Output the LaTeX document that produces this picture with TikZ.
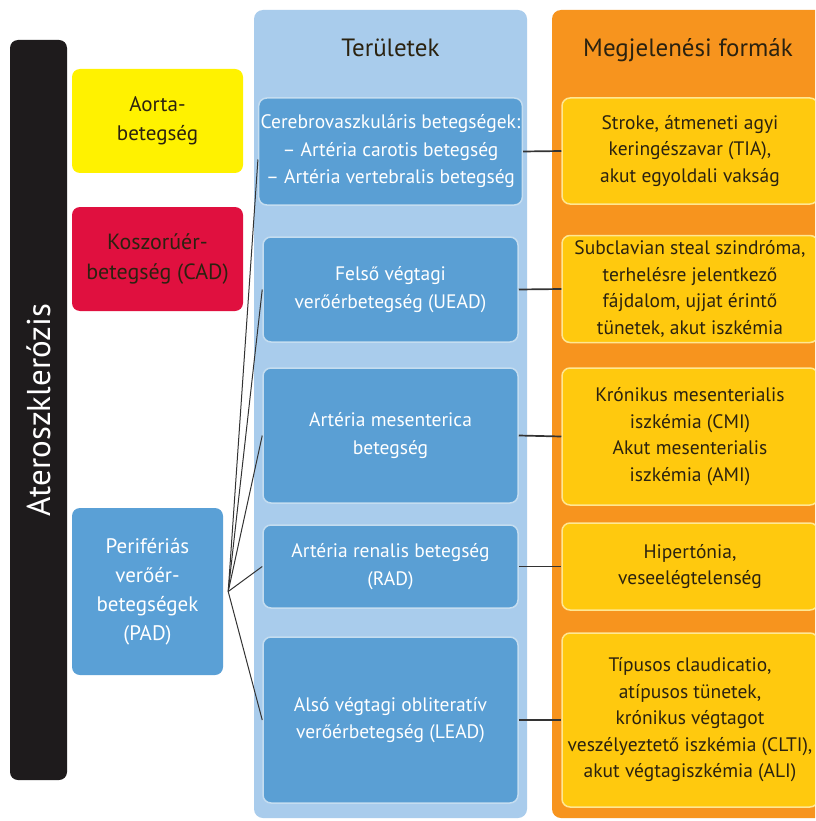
\documentclass[tikz,border=0pt]{standalone}
\usepackage{fontspec}
\setmainfont{PT Sans}
\usetikzlibrary{positioning}
\definecolor{barblack}{HTML}{1E1B1C}
\definecolor{aortayellow}{HTML}{FFF200}
\definecolor{cadred}{HTML}{E0103F}
\definecolor{padblue}{HTML}{5AA0D6}
\definecolor{areablue}{HTML}{A9CCEC}
\definecolor{boxblue}{HTML}{5A9FD4}
\definecolor{formorange}{HTML}{F7941E}
\definecolor{formyellow}{HTML}{FFC90E}
\definecolor{darktext}{HTML}{2B2210}
\tikzset{main node/.style={rounded corners=8pt,inner sep=2pt,align=center,font=\fontsize{21}{29}\selectfont}}
\tikzset{panel node/.style={rounded corners=9pt,inner sep=0pt}}
\tikzset{title node/.style={font=\fontsize{25}{28}\selectfont,text=darktext}}
\tikzset{area node/.style={main node,fill=boxblue,draw=white!65!boxblue,line width=1.5pt,text=white,minimum width=255pt,font=\fontsize{19.5}{27.5}\selectfont}}
\tikzset{form node/.style={main node,fill=formyellow,draw=white!55!formyellow,line width=1.5pt,text=darktext,minimum width=256pt,font=\fontsize{19.5}{26.5}\selectfont}}
\tikzset{link/.style={draw=black!80,line width=1.7pt}}

\begin{document}
\begin{tikzpicture}[x=1pt,y=-1pt]
    \clip (0,0) rectangle (815,821);
    \fill[white] (0,0) rectangle (815,821);
    % panels
    \node[panel node,fill=areablue,minimum width=273pt,minimum height=808pt] (p_{1}) at (390.5,414) {};
    \node[title node] (t_{1}) at (390.5,48) {Területek};
    \node[panel node,fill=formorange,minimum width=290pt,minimum height=808pt] (p_{2}) at (697,414) {};
    \node[title node] (t_{2}) at (688,50) {Megjelenési formák};

    % left column
    \node[main node,fill=barblack,text=white,rotate=90,minimum width=740pt,minimum height=57pt,font=\fontsize{33}{36}\selectfont] (bar) at (38.5,410) {Ateroszklerózis};
    \node[main node,fill=aortayellow,text=darktext,minimum width=171pt,minimum height=104pt] (aorta) at (157.5,121) {Aorta-\\betegség};
    \node[main node,fill=cadred,text=darktext,minimum width=171pt,minimum height=104pt,font=\fontsize{22}{30}\selectfont] (cad) at (157.5,259) {Koszorúér-\\betegség (CAD)};
    \node[main node,fill=padblue,text=white,minimum width=151pt,minimum height=167pt] (pad) at (147.5,591.5) {Perifériás\\verőér-\\betegségek\\(PAD)};

    % areas
    \node[area node,minimum height=107pt] (a_{1}) at (390.5,151.5) {Cerebrovaszkuláris betegségek:\\– Artéria carotis betegség\\– Artéria vertebralis betegség};
    \node[area node,minimum height=105pt] (a_{2}) at (390.5,289.5) {Felső végtagi\\verőérbetegség (UEAD)};
    \node[area node,minimum height=135pt] (a_{3}) at (390.5,435.5) {Artéria mesenterica\\betegség};
    \node[area node,minimum height=83pt] (a_{4}) at (390.5,566.5) {Artéria renalis betegség\\(RAD)};
    \node[area node,minimum height=166pt] (a_{5}) at (390.5,720) {Alsó végtagi obliteratív\\verőérbetegség (LEAD)};

    % forms
    \node[form node,minimum height=106pt] (f_{1}) at (690,151) {Stroke, átmeneti agyi\\keringészavar (TIA),\\akut egyoldali vakság};
    \node[form node,minimum height=107pt] (f_{2}) at (690,289) {Subclavian steal szindróma,\\terhelésre jelentkező\\fájdalom, ujjat érintő\\tünetek, akut iszkémia};
    \node[form node,minimum height=137pt] (f_{3}) at (690,436.5) {Krónikus mesenterialis\\iszkémia (CMI)\\Akut mesenterialis\\iszkémia (AMI)};
    \node[form node,minimum height=87pt] (f_{4}) at (690,566.5) {Hipertónia,\\veseelégtelenség};
    \node[form node,minimum height=174pt] (f_{5}) at (690,720) {Típusos claudicatio,\\atípusos tünetek,\\krónikus végtagot\\veszélyeztető iszkémia (CLTI),\\akut végtagiszkémia (ALI)};

    \coordinate (fan) at ([xshift=5pt]pad.east);
    \path [link,line width=1pt]
    (fan) edge ([yshift=-8pt]a_{1}.west)
    (fan) edge (a_{2}.west)
    (fan) edge (a_{3}.west)
    (fan) edge (a_{4}.west)
    (fan) edge (a_{5}.west);
    \path [link]
    (a_{1}.east) edge (f_{1}.west)
    (a_{2}.east) edge (f_{2}.west)
    (a_{3}.east) edge (f_{3}.west)
    (a_{4}.east) edge (f_{4}.west)
    (a_{5}.east) edge (f_{5}.west);
\end{tikzpicture}
\end{document}
